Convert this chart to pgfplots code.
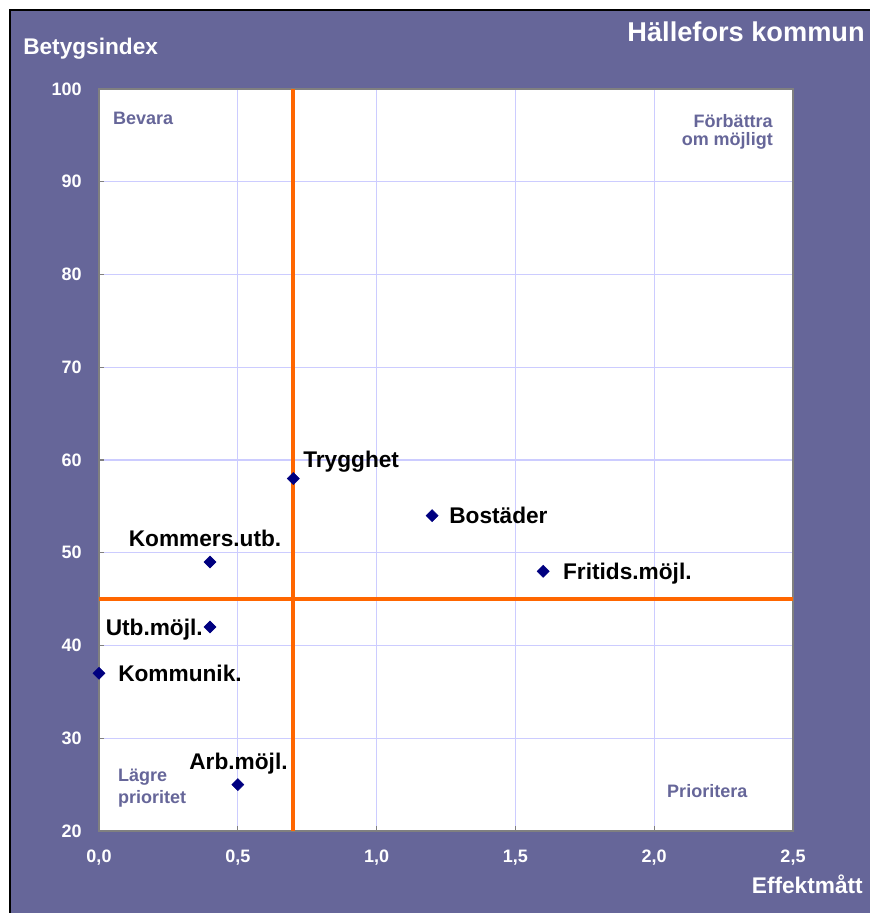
\documentclass[border=0pt]{standalone}
\usepackage{fontspec}
\setmainfont{Liberation Sans}
\usepackage{pgfplots}
\pgfplotsset{compat=1.18}
\definecolor{bgpurple}{RGB}{102,102,153}
\definecolor{gridlav}{RGB}{204,204,255}
\definecolor{qorange}{RGB}{255,102,0}
\definecolor{ptnavy}{RGB}{0,0,128}
\definecolor{frgray}{RGB}{128,128,128}
\begin{document}
\begin{tikzpicture}
\useasboundingbox (0,0) rectangle (652.5pt,-684.75pt);
\fill[white] (0,0) rectangle (652.5pt,-684.75pt);
\fill[bgpurple] (7.5pt,-7.5pt) rectangle (652.5pt,-684.75pt);
\draw[black, line width=1.1pt] (7.5pt,-684.75pt) -- (7.5pt,-7.5pt) -- (652.5pt,-7.5pt);
\node[anchor=base east, text=white, font=\fontsize{20.4}{24}\selectfont\bfseries, inner sep=0pt] at (648.75pt,-31.5pt) {Hällefors kommun};
\node[anchor=base west, text=white, font=\fontsize{17}{20}\selectfont\bfseries, inner sep=0pt] at (17.25pt,-41.25pt) {Betygsindex};
\node[anchor=base east, text=white, font=\fontsize{17}{20}\selectfont\bfseries, inner sep=0pt] at (647.25pt,-669.75pt) {Effektmått};
\begin{axis}[
  at={(74.25pt,-623.25pt)}, anchor=south west,
  scale only axis, width=520.5pt, height=556.5pt,
  xmin=0, xmax=2.5, ymin=20, ymax=100,
  clip=false,
  /pgf/number format/assume math mode=true,
  axis background/.style={fill=white},
  xtick={0,0.5,1,1.5,2,2.5},
  xticklabels={{0,0},{0,5},{1,0},{1,5},{2,0},{2,5}},
  ytick={20,30,40,50,60,70,80,90,100},
  yticklabels={20,30,40,50,60,70,80,90,100},
  grid=major,
  major grid style={color=gridlav, line width=0.8pt},
  axis line style={draw=frgray, line width=1.2pt},
  tick align=inside, tick pos=left,
  major tick length=4pt,
  tick style={draw=frgray, line width=0.8pt},
  xticklabel style={font=\fontsize{13.5}{16}\selectfont\bfseries, text=white, anchor=base, yshift=-23.25pt, inner sep=0pt},
  yticklabel style={font=\fontsize{13.5}{16}\selectfont\bfseries, text=white, anchor=east, xshift=-12.75pt, inner sep=0pt},
]
\addplot[qorange, line width=3pt, forget plot] coordinates {(0.7,20) (0.7,100)};
\addplot[qorange, line width=3pt, forget plot] coordinates {(0,45) (2.5,45)};
\addplot[only marks, mark=square*, mark size=3.2pt, color=ptnavy,
  every mark/.append style={rotate=45}] table {
x y
0.7 58
1.2 54
1.6 48
0.4 49
0.4 42
0.0 37
0.5 25
};
% point labels
\begin{scope}[every node/.style={inner sep=0pt, font=\fontsize{17}{20}\selectfont\bfseries, text=black}]
\node[anchor=base west] at (axis cs:0.735,59.14) {Trygghet};
\node[anchor=base west] at (axis cs:1.261,53.18) {Bostäder};
\node[anchor=base west] at (axis cs:1.671,47.17) {Fritids.möjl.};
\node[anchor=base] at (axis cs:0.382,50.65) {Kommers.utb.};
\node[anchor=base east] at (axis cs:0.3746,41.06) {Utb.möjl.};
\node[anchor=base west] at (axis cs:0.0684,36.10) {Kommunik.};
\node[anchor=base] at (axis cs:0.5025,26.58) {Arb.möjl.};
\end{scope}
% quadrant labels
\begin{scope}[every node/.style={inner sep=0pt, font=\fontsize{13.5}{16}\selectfont\bfseries, text=bgpurple}]
\node[anchor=base west] at (axis cs:0.050,96.17) {Bevara};
\node[anchor=base east] at (axis cs:2.428,95.90) {Förbättra};
\node[anchor=base east] at (axis cs:2.428,93.96) {om möjligt};
\node[anchor=base west] at (axis cs:0.068,25.39) {Lägre};
\node[anchor=base west] at (axis cs:0.068,23.02) {prioritet};
\node[anchor=base west] at (axis cs:2.046,23.63) {Prioritera};
\end{scope}
\end{axis}
\end{tikzpicture}
\end{document}
